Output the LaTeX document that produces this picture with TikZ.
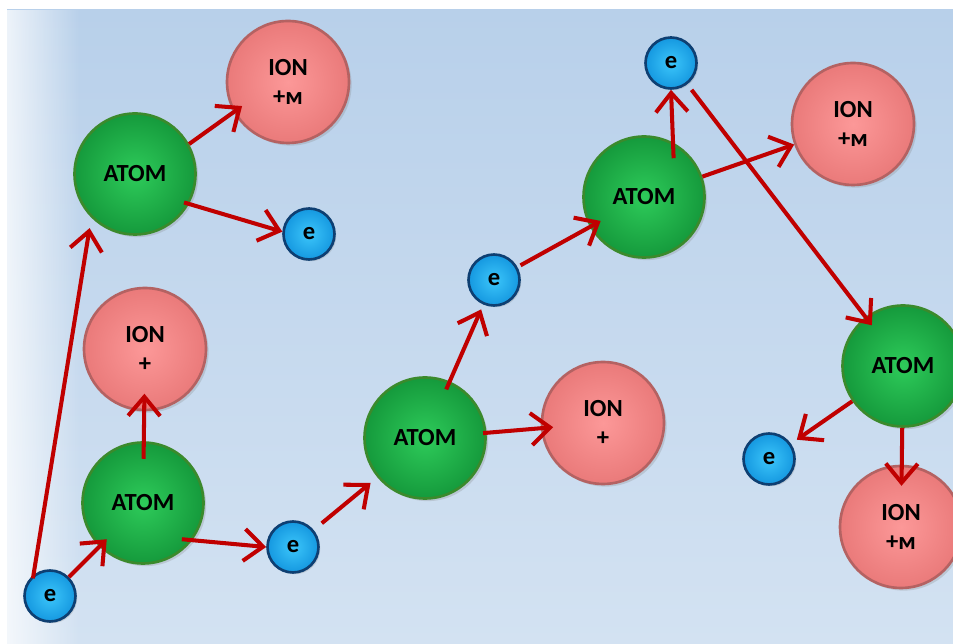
\documentclass[tikz,border=0pt]{standalone}
\usepackage{fontspec}
\setmainfont{Carlito}
\usetikzlibrary{arrows.meta, positioning, shadows, fadings}

\definecolor{atomin}{HTML}{2ECB5A}
\definecolor{atomout}{HTML}{159A3C}
\definecolor{atomedge}{HTML}{3B8A2C}
\definecolor{ionin}{HTML}{FC9898}
\definecolor{ionout}{HTML}{EA7A7A}
\definecolor{ionedge}{HTML}{B46262}
\definecolor{elin}{HTML}{3CC6FA}
\definecolor{elout}{HTML}{1598E0}
\definecolor{eledge}{HTML}{0E3F72}
\definecolor{arrowred}{HTML}{C00000}
\definecolor{bgtop}{HTML}{B8D0EA}
\definecolor{bgbottom}{HTML}{D3E2F2}

\begin{document}
\begin{tikzpicture}[
    x=0.02cm, y=-0.02cm,
    atom/.style={circle, draw=atomedge, line width=1.5pt, inner color=atomin, outer color=atomout, minimum size=2.42cm, font=\fontsize{14}{16}\selectfont\bfseries, drop shadow={opacity=0.25, shadow xshift=1.5pt, shadow yshift=-1.5pt}},
    ion/.style={circle, draw=ionedge, line width=1.5pt, inner color=ionin, outer color=ionout, minimum size=2.44cm, align=center, font=\fontsize{14}{17}\selectfont\bfseries, drop shadow={opacity=0.25, shadow xshift=1.5pt, shadow yshift=-1.5pt}},
    elec/.style={circle, draw=eledge, line width=1.5pt, inner color=elin, outer color=elout, minimum size=1.02cm, inner sep=0pt, font=\fontsize{14}{16}\selectfont\bfseries, drop shadow={opacity=0.25, shadow xshift=1pt, shadow yshift=-1pt}},
    arrow/.style={-{Straight Barb[length=3.8mm, width=6.4mm]}, line width=2.3pt, draw=arrowred}
  ]
    % background
    \useasboundingbox (0,0) rectangle (953,644);
    \shade[top color=bgtop, bottom color=bgbottom] (7,10) rectangle (953,644);
    \fill[white, opacity=0.75, path fading=east] (7,10) rectangle (80,644);

    \node[atom] (atom1) at (135,174) {ATOM};
    \node[atom] (atom2) at (143,503) {ATOM};
    \node[atom] (atom3) at (425,438) {ATOM};
    \node[atom] (atom4) at (644,197) {ATOM};
    \node[atom] (atom5) at (903,366) {ATOM};

    \node[ion] (ion1) at (288,82) {ION\\+м};
    \node[ion] (ion2) at (145,349) {ION\\+};
    \node[ion] (ion3) at (603,423) {ION\\+};
    \node[ion] (ion4) at (853,124) {ION\\+м};
    \node[ion] (ion5) at (901,527) {ION\\+м};

    \node[elec] (e1) at (309,234) {e};
    \node[elec] (e2) at (50,596) {e};
    \node[elec] (e3) at (293,547) {e};
    \node[elec] (e4) at (494,280) {e};
    \node[elec] (e5) at (671,63) {e};
    \node[elec] (e6) at (769,459) {e};

    \draw[arrow, shorten <=-2pt, shorten >=6pt] (e2.128) -- (atom1.225);
    \draw[arrow, shorten >=-6pt] (e2) -- (atom2);
    \draw[arrow, shorten <=-10pt, shorten >=-10pt] (atom2) -- (ion2);
    \draw[arrow, shorten <=-6pt] (atom2.-37) -- (e3.west);
    \draw[arrow, shorten >=-6pt] (atom1.29) -- (ion1.209);
    \draw[arrow, shorten <=-3pt] (atom1.-29) -- (e1.175);
    \draw[arrow, shorten <=6pt, shorten >=5pt] (e3) -- (atom3);
    \draw[arrow, shorten <=-5pt, shorten >=3pt] (atom3) -- (e4);
    \draw[arrow, shorten <=-2pt, shorten >=-7pt] (atom3) -- (ion3);
    \draw[arrow, shorten <=2pt, shorten >=-7pt] (e4) -- (atom4);
    \draw[arrow, shorten <=-9pt] (atom4.62) -- (e5.south);
    \draw[arrow] (atom4) -- (ion4);
    \draw[arrow, shorten <=4pt, shorten >=-6pt] (e5) -- (atom5);
    \draw[arrow, shorten >=4pt] (atom5) -- (e6);
    \draw[arrow, shorten >=-12pt] (atom5) -- (ion5);
  \end{tikzpicture}
\end{document}
